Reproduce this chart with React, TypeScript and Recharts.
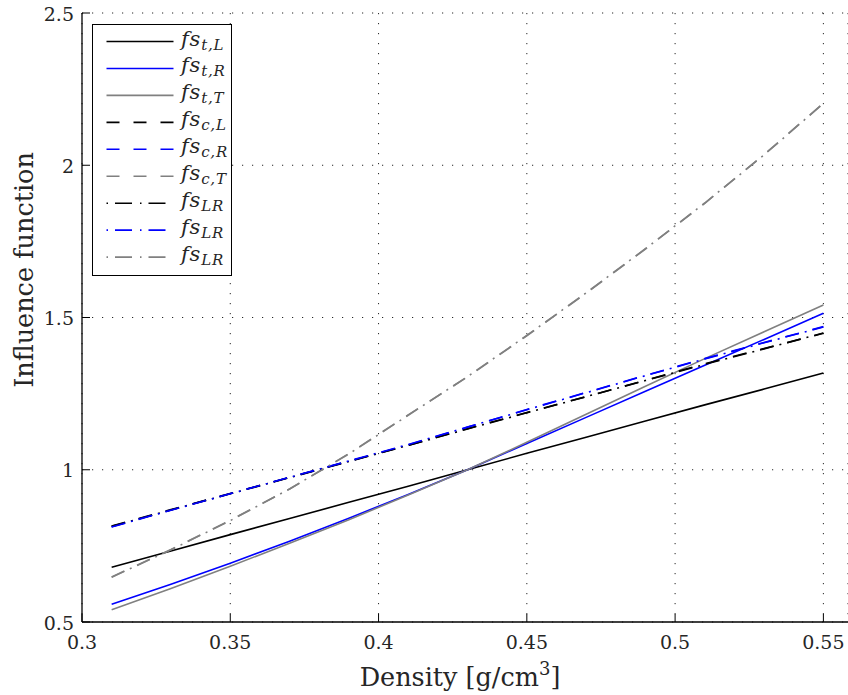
import { CartesianGrid, Line, LineChart, XAxis, YAxis } from "recharts";

// density [g/cm3] sample points shared by all curves
const density = [0.31, 0.33, 0.35, 0.37, 0.39, 0.41, 0.43, 0.45, 0.47, 0.49, 0.51, 0.53, 0.55];

const fsTL = [0.68, 0.733, 0.787, 0.84, 0.893, 0.946, 1.0, 1.054, 1.107, 1.16, 1.213, 1.265, 1.318];
const fsTR = [0.558, 0.624, 0.693, 0.765, 0.841, 0.919, 1.0, 1.086, 1.172, 1.258, 1.343, 1.428, 1.514];
const fsTT = [0.54, 0.61, 0.683, 0.759, 0.836, 0.917, 1.0, 1.09, 1.182, 1.274, 1.365, 1.453, 1.541];
const fsCL = [0.815, 0.869, 0.922, 0.975, 1.028, 1.08, 1.135, 1.188, 1.24, 1.294, 1.348, 1.398, 1.448];
const fsCR = [0.813, 0.868, 0.922, 0.975, 1.028, 1.082, 1.14, 1.198, 1.254, 1.31, 1.365, 1.418, 1.47];
const fsCT = [0.648, 0.738, 0.834, 0.937, 1.053, 1.18, 1.305, 1.44, 1.58, 1.725, 1.875, 2.035, 2.204];
const fsLRL = [0.814, 0.868, 0.921, 0.974, 1.027, 1.08, 1.134, 1.187, 1.24, 1.293, 1.346, 1.397, 1.449];
const fsLRR = [0.812, 0.867, 0.921, 0.975, 1.029, 1.083, 1.14, 1.197, 1.253, 1.309, 1.364, 1.417, 1.469];
const fsLRT = [0.647, 0.737, 0.833, 0.937, 1.052, 1.179, 1.306, 1.441, 1.581, 1.726, 1.876, 2.034, 2.203];

const xTicks = [0.3, 0.35, 0.4, 0.45, 0.5, 0.55];
const yTicks = [0.5, 1, 1.5, 2, 2.5];

const BLACK = "#000000";
const BLUE = "#0000ff";
const GRAY = "#808080";
const SOLID = undefined;
const DASH = "14 14";
const DASHDOT = "14 6 2 6";
const FONT = "DejaVu Serif";
const TXT = "#262626";

const series = [
  { key: "tL", values: fsTL, color: BLACK, dash: SOLID, sub: "t,L" },
  { key: "tR", values: fsTR, color: BLUE, dash: SOLID, sub: "t,R" },
  { key: "tT", values: fsTT, color: GRAY, dash: SOLID, sub: "t,T" },
  { key: "cL", values: fsCL, color: BLACK, dash: DASH, sub: "c,L" },
  { key: "cR", values: fsCR, color: BLUE, dash: DASH, sub: "c,R" },
  { key: "cT", values: fsCT, color: GRAY, dash: DASH, sub: "c,T" },
  { key: "lrL", values: fsLRL, color: BLACK, dash: DASHDOT, sub: "LR" },
  { key: "lrR", values: fsLRR, color: BLUE, dash: DASHDOT, sub: "LR" },
  { key: "lrT", values: fsLRT, color: GRAY, dash: DASHDOT, sub: "LR" },
];

const rows = density.map((d, i) => {
  const row: Record<string, number> = { density: d };
  series.forEach((s) => (row[s.key] = s.values[i]));
  return row;
});

const txtStyle = { fontFamily: FONT };

const XTick = ({ x, y, payload }: any) => (
  <g>
    <line x1={x} x2={x} y1={y} y2={y - 8} stroke={BLACK} strokeWidth={1} />
    <text x={x} y={y + 27} textAnchor="middle" fontSize={19} style={txtStyle} fill={TXT}>
      {String(payload.value)}
    </text>
  </g>
);

const TopTick = ({ x, y }: any) => <line x1={x} x2={x} y1={y} y2={y + 8} stroke={BLACK} strokeWidth={1} />;

const YTick = ({ x, y, payload }: any) => (
  <g>
    <line x1={x} x2={x + 8} y1={y} y2={y} stroke={BLACK} strokeWidth={1} />
    <text x={x - 8} y={y + 7.5} textAnchor="end" fontSize={19} style={txtStyle} fill={TXT}>
      {String(payload.value)}
    </text>
  </g>
);

function LegendBox() {
  const w = 140;
  const h = 252;
  return (
    <svg width={w} height={h} style={{ position: "absolute", left: 92, top: 24, overflow: "visible" }}>
      <rect x={0.5} y={0.5} width={w - 1} height={h - 1} fill="#fff" stroke={BLACK} strokeWidth={1} />
      {series.map((s, i) => {
        const cy = 17.5 + i * 26.95;
        return (
          <g key={s.key}>
            <line
              x1={14.5}
              x2={81.5}
              y1={cy}
              y2={cy}
              stroke={s.color}
              strokeWidth={1.6}
              strokeDasharray={s.dash === DASH ? "13 14" : s.dash === DASHDOT ? "1.5 7 17 8" : undefined}
            />
            <text x={89} y={cy + 4} style={txtStyle} fontStyle="italic" fontSize={21} fill={TXT} letterSpacing={0.8}>
              fs
              <tspan fontSize={15} dy={4} letterSpacing={0.8}>
                {s.sub}
              </tspan>
            </text>
          </g>
        );
      })}
    </svg>
  );
}

export default function App() {
  return (
    <div style={{ position: "absolute", left: 0, top: 0, width: 848, height: 695, background: "#fff" }}>
      <LineChart width={848} height={695} data={rows} margin={{ top: 13, right: 0, bottom: 0, left: 0 }}>
        <CartesianGrid stroke={BLACK} strokeWidth={1} strokeDasharray="1.2 8.8" strokeOpacity={0.85} />
        <XAxis
          dataKey="density"
          type="number"
          domain={[0.3, 0.5583]}
          allowDataOverflow
          ticks={xTicks}
          height={73}
          tickSize={0}
          tickMargin={0}
          tickLine={false}
          axisLine={{ stroke: BLACK, strokeWidth: 1.3 }}
          tick={<XTick />}
          label={() => (
            <text x={460} y={686} textAnchor="middle" fontSize={25.5} style={txtStyle} fill={TXT}>
              Density [g/cm
              <tspan dy={-11} fontSize={18}>
                3
              </tspan>
              <tspan dy={11}>]</tspan>
            </text>
          )}
        />
        <XAxis
          xAxisId="top"
          orientation="top"
          dataKey="density"
          type="number"
          domain={[0.3, 0.5583]}
          allowDataOverflow
          ticks={xTicks}
          height={0}
          tickSize={0}
          tickMargin={0}
          tickLine={false}
          axisLine={{ stroke: BLACK, strokeWidth: 1.3 }}
          tick={<TopTick />}
        />
        <YAxis
          type="number"
          domain={[0.5, 2.5]}
          ticks={yTicks}
          width={82}
          tickSize={0}
          tickMargin={0}
          tickLine={false}
          axisLine={{ stroke: BLACK, strokeWidth: 1.3 }}
          tick={<YTick />}
          label={() => (
            <text transform="translate(33,270) rotate(-90)" textAnchor="middle" fontSize={25.5} style={txtStyle} fill={TXT}>
              Influence function
            </text>
          )}
        />
        {series.map((s) => (
          <Line
            key={s.key}
            dataKey={s.key}
            type="linear"
            stroke={s.color}
            strokeWidth={1.6}
            strokeDasharray={s.dash}
            dot={false}
            activeDot={false}
            isAnimationActive={false}
          />
        ))}
      </LineChart>
      <LegendBox />
    </div>
  );
}
